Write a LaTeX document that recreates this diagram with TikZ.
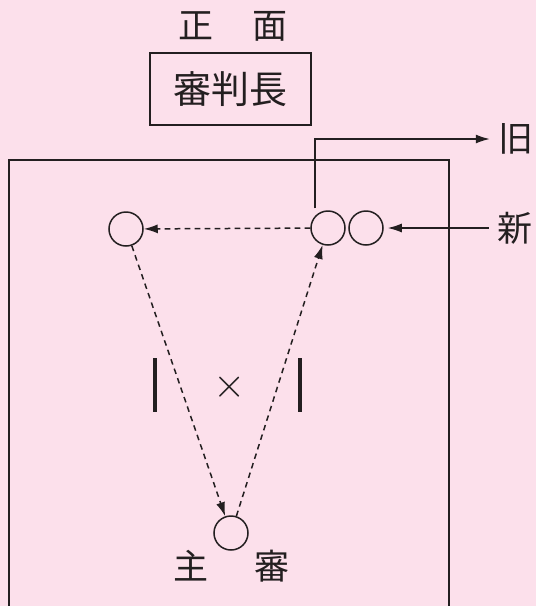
\documentclass[tikz,border=0pt]{standalone}
\usepackage{fontspec}
\newfontfamily\jpfont{Noto Sans CJK JP}
\usetikzlibrary{arrows.meta}
\definecolor{bgpink}{RGB}{252,224,235}
\definecolor{ink}{RGB}{35,31,32}
\tikzset{every picture/.style={line width=0.75pt}}
\tikzset{
  jptext/.style={font=\jpfont\fontsize{17.5}{17.5}\selectfont, text=ink, inner sep=4pt},
  referee/.style={circle, draw=ink, line width=0.75pt, minimum size=17pt, inner sep=0pt},
  walk/.style={draw=ink, dash pattern=on 2.8pt off 2.2pt, line width=0.75pt, -{Latex[length=7pt,width=4.5pt]}},
  move/.style={draw=ink, line width=0.7pt, -{Latex[length=7pt,width=4.5pt]}},
  bar/.style={draw=ink, line width=2pt}
}

\begin{document}
\begin{tikzpicture}[x=0.5pt,y=-0.5pt]
\useasboundingbox (0,0) rectangle (536,606);
\fill[bgpink] (0,0) rectangle (536,606);
%
\node[jptext] (front) at (233,26) {正\hspace{1.1em}面};
\node[jptext, draw=ink, line width=0.7pt, font=\jpfont\fontsize{19}{19}\selectfont,
  minimum width=80.5pt, minimum height=36pt] (chief) at (230.5,89) {審判長};
%
\draw[draw=ink] (9,606) -- (9,160) -- (449,160) -- (449,606);
%
\node[referee] (refL) at (126,229) {};
\node[referee] (refR1) at (328,228) {};
\node[referee] (refR2) at (366,228) {};
\node[referee] (main) at (231,533) {};
\node[jptext] (mainlabel) at (231.5,566) {主\hspace{1.3em}審};
%
\node[jptext] (old) at (516,139) {旧};
\node[jptext] (new) at (515,228) {新};
%
\draw[walk] (refR1) -- (refL);
\draw[walk] (refL) -- (main);
\draw[walk] (main) -- (refR1);
%
\draw[move] ([xshift=-6.5pt,yshift=1pt]refR1.north) |- (old.west);
\draw[move, shorten >=2pt] (new.west) -- (refR2.east);
%
\draw[bar] (155,358) -- (155,412);
\draw[bar] (300,358) -- (300,412);
\node[text=ink, font=\fontsize{21}{21}\selectfont] (cross) at (230,387) {$\times$};
\end{tikzpicture}
\end{document}
